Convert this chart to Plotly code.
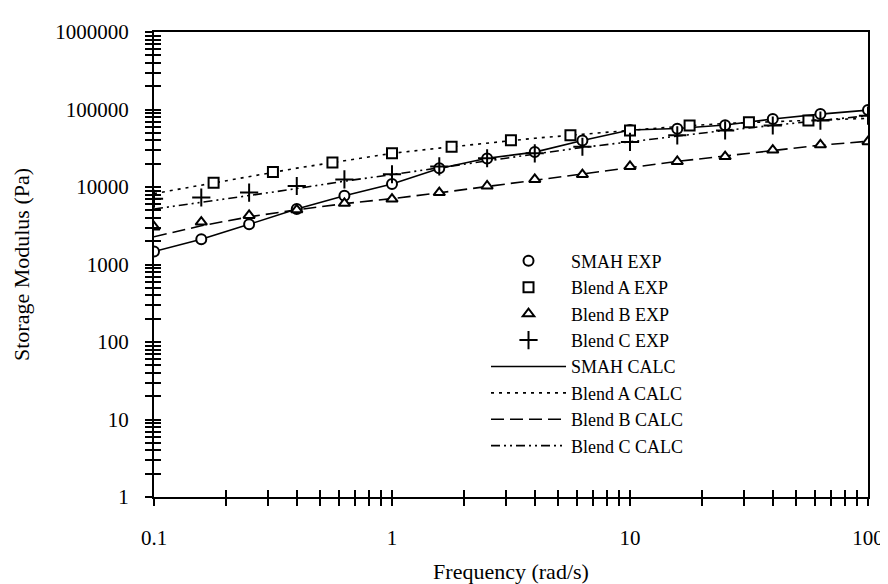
import plotly.graph_objects as go

# ---------------- data ----------------
freq = [0.1, 0.158, 0.251, 0.398, 0.631, 1.0, 1.58, 2.51, 3.98, 6.31, 10, 15.8, 25.1, 39.8, 63.1, 100]
freq_a = [0.178, 0.316, 0.562, 1.0, 1.78, 3.16, 5.62, 10, 17.8, 31.6, 56.2]

smah_exp = [1470, 2120, 3300, 5210, 7690, 10960, 17400, 23400, 28200, 39800, 54300, 56400, 62700, 75300, 87300, 98200]
blend_a_exp = [11330, 15630, 20720, 27170, 33040, 40100, 46450, 53700, 62200, 68450, 71900]
blend_b_exp = [3055, 3530, 4295, 5070, 6150, 6990, 8470, 10300, 12510, 14480, 18450, 21340, 24680, 30000, 35000, 38500]
blend_c_exp = [7050, 7320, 8470, 10300, 12510, 14610, 18450, 23500, 27170, 33040, 38200, 46450, 53700, 62200, 71900, 83200]

smah_calc = [1470, 2120, 3300, 5210, 7690, 10960, 17380, 23440, 28180, 39810, 54330, 56890, 63100, 75340, 87100, 98200]
blend_a_calc = [8220, 10620, 13740, 17500, 21830, 27160, 31770, 37150, 42560, 47860, 53700, 60260, 66070, 69980, 73280, 76740]
blend_b_calc = [2280, 3160, 4120, 5070, 6100, 7080, 8410, 10120, 12300, 14620, 17780, 21380, 25120, 29510, 34670, 38900]
blend_c_calc = [5200, 6310, 7760, 9550, 11890, 14450, 17780, 21880, 26600, 32360, 38460, 45700, 53700, 62370, 72440, 83180]

x_ticks = [0.1, 1, 10, 100]
x_tick_labels = ["0.1", "1", "10", "100"]
y_ticks = [1, 10, 100, 1000, 10000, 100000, 1000000]
y_tick_labels = ["1", "10", "100", "1000", "10000", "100000", "1000000"]

x_minor = [m * 10.0 ** e for e in range(-1, 2) for m in range(2, 10)]
y_minor = [m * 10.0 ** e for e in range(0, 6) for m in range(2, 10)]

FONT = "Liberation Serif"
BLACK = "black"

fig = go.Figure()

# calc lines (drawn first, below markers)
calc = [
    ("SMAH CALC", smah_calc, "solid", 5),
    ("Blend A CALC", blend_a_calc, "3px,5px", 6),
    ("Blend B CALC", blend_b_calc, "13px,6px", 7),
    ("Blend C CALC", blend_c_calc, "9px,4px,2px,4px,2px,4px", 8),
]
for name, vals, dash, rank in calc:
    fig.add_trace(go.Scatter(
        x=freq, y=vals, mode="lines", name=name, legendrank=rank,
        line=dict(color=BLACK, width=1.6, dash=dash),
    ))

exp = [
    ("SMAH EXP", freq, smah_exp, "circle", 10, 1),
    ("Blend A EXP", freq_a, blend_a_exp, "square", 10, 2),
    ("Blend B EXP", freq, blend_b_exp, "triangle-up", 10, 3),
    ("Blend C EXP", freq, blend_c_exp, "cross-thin", 13, 4),
]
for name, xs, vals, sym, size, rank in exp:
    fig.add_trace(go.Scatter(
        x=xs, y=vals, mode="markers", name=name, legendrank=rank,
        marker=dict(symbol=sym, size=size, color="white",
                    line=dict(color=BLACK, width=2)),
    ))

# empty trace so the overlay axes (inner half of the crossing ticks) get drawn
fig.add_trace(go.Scatter(x=[], y=[], xaxis="x2", yaxis="y2", showlegend=False,
                         hoverinfo="skip"))

tickfont = dict(family=FONT, size=21, color=BLACK)

fig.update_layout(
    width=888, height=584,
    margin=dict(l=140, r=18, t=18, b=92),
    paper_bgcolor="white", plot_bgcolor="white",
    font=dict(family=FONT, color=BLACK),
    showlegend=True,
    legend=dict(
        x=0.465, y=0.547, xanchor="left", yanchor="top",
        font=dict(family=FONT, size=18, color=BLACK),
        itemwidth=75, bgcolor="rgba(0,0,0,0)", tracegroupgap=0,
    ),
    xaxis=dict(
        type="log", range=[-1, 2],
        tickmode="array", tickvals=x_ticks, ticktext=x_tick_labels,
        ticks="outside", ticklen=7, tickwidth=2, tickcolor=BLACK,
        minor=dict(tickmode="array", tickvals=x_minor, ticks="outside",
                   ticklen=7, tickwidth=2, tickcolor=BLACK, showgrid=False),
        showline=True, linecolor=BLACK, linewidth=2, mirror=True,
        showgrid=False, zeroline=False,
        tickfont=tickfont, ticklabelstandoff=14,
        title=dict(text="Frequency (rad/s)", font=dict(family=FONT, size=22, color=BLACK), standoff=14),
    ),
    yaxis=dict(
        type="log", range=[0, 6],
        tickmode="array", tickvals=y_ticks, ticktext=y_tick_labels,
        ticks="outside", ticklen=7, tickwidth=2, tickcolor=BLACK,
        minor=dict(tickmode="array", tickvals=y_minor, ticks="outside",
                   ticklen=7, tickwidth=2, tickcolor=BLACK, showgrid=False),
        showline=True, linecolor=BLACK, linewidth=2, mirror=True,
        showgrid=False, zeroline=False,
        tickfont=tickfont, ticklabelstandoff=12,
        title=dict(text="Storage Modulus (Pa)", font=dict(family=FONT, size=22, color=BLACK), standoff=20),
    ),
    xaxis2=dict(
        type="log", range=[-1, 2], overlaying="x", anchor="y2", side="bottom",
        tickmode="array", tickvals=x_ticks, showticklabels=False,
        ticks="inside", ticklen=7, tickwidth=2, tickcolor=BLACK,
        minor=dict(tickmode="array", tickvals=x_minor, ticks="inside",
                   ticklen=7, tickwidth=2, tickcolor=BLACK, showgrid=False),
        showline=False, showgrid=False, zeroline=False,
    ),
    yaxis2=dict(
        type="log", range=[0, 6], overlaying="y", anchor="x2", side="left",
        tickmode="array", tickvals=y_ticks, showticklabels=False,
        ticks="inside", ticklen=7, tickwidth=2, tickcolor=BLACK,
        minor=dict(tickmode="array", tickvals=y_minor, ticks="inside",
                   ticklen=7, tickwidth=2, tickcolor=BLACK, showgrid=False),
        showline=False, showgrid=False, zeroline=False,
    ),
)

fig.write_html("out.html")
